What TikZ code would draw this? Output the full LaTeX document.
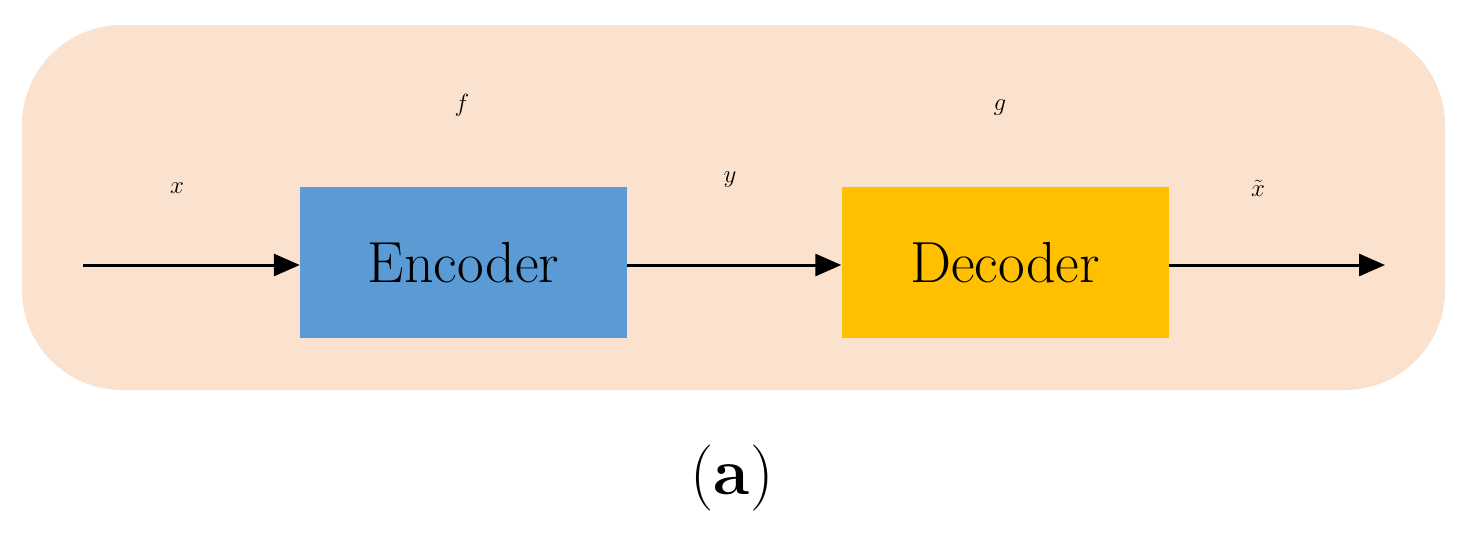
\documentclass[tikz,border=0pt]{standalone}
\usetikzlibrary{arrows.meta}
\definecolor{bgc}{RGB}{251,226,207}
\definecolor{encc}{RGB}{91,155,213}
\definecolor{decc}{RGB}{255,192,0}
\begin{document}
\begin{tikzpicture}[x=1pt,y=-1pt,
  box/.style={draw=none,minimum width=327pt,minimum height=151pt,inner sep=0pt,font=\fontsize{58}{60}\selectfont},
  lab/.style={font=\fontsize{62}{64}\selectfont},
  arr/.style={line width=3pt,-{Triangle[length=26pt,width=22pt]}}]
\useasboundingbox (0,0) rectangle (1465,547);
\fill[bgc,rounded corners=100pt] (22,25) rectangle (1445,390);
\node[box,fill=encc] (enc) at (463.5,262.5) {Encoder};
\node[box,fill=decc] (dec) at (1005,262.5) {Decoder};
\coordinate (in) at (83,265);
\coordinate (out) at (1385,265);
\draw[arr] (in) -- (enc.west|-in);
\draw[arr] (enc.east|-in) -- (dec.west|-in);
\draw[arr] (dec.east|-in) -- (out);
\node[lab] (lx) at (177,188) {$x$};
\node[lab] (lf) at (462,105) {$f$};
\node[lab] (ly) at (730,180) {$y$};
\node[lab] (lg) at (1000,108) {$g$};
\node[lab] (lxt) at (1258,188) {$\tilde{x}$};
\node[font=\fontsize{66}{68}\selectfont] (cap) at (732,478) {(\textbf{a})};
\end{tikzpicture}
\end{document}
